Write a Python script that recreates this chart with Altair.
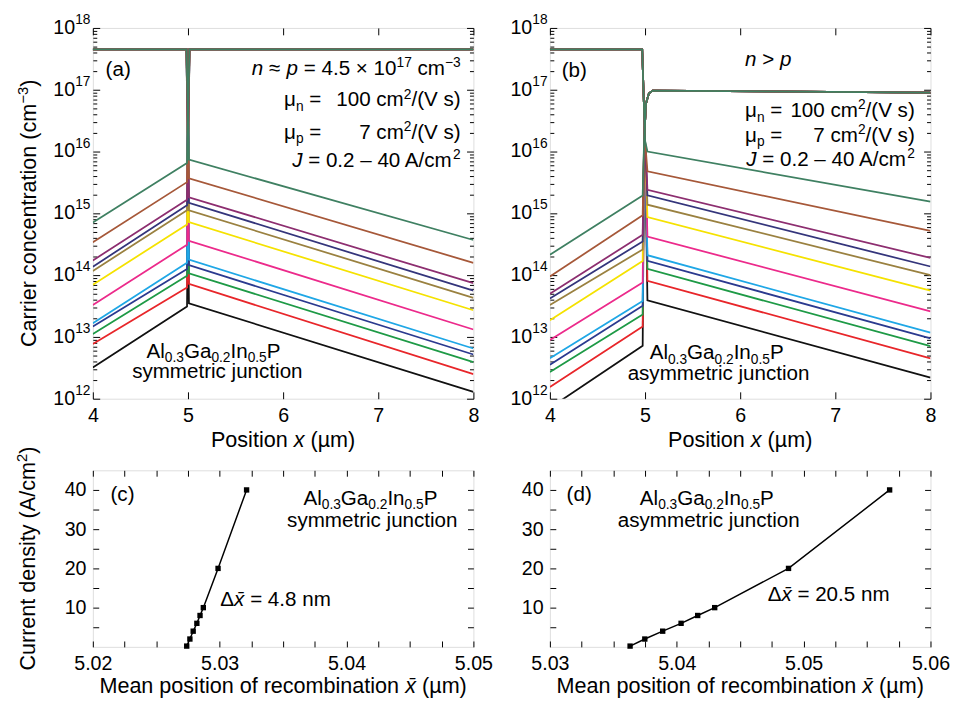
import altair as alt
import pandas as pd

FONT = "Liberation Sans"

# ---------------- data ----------------
CURVES = ["c01", "c02", "c03", "c04", "c05", "c06", "c07", "c08", "c09", "c10", "c11", "c12"]
CURVE_COLORS = ["#111111", "#e8262a", "#1e9a46", "#2b3a8f", "#1fa7e6", "#ec2a8b",
                "#f5e200", "#9a8140", "#34357b", "#8d2e70", "#a65839", "#3f8062"]

# panel (a): symmetric junction
A_MAJORITY = 4.5e17
A_N_X = [4.0, 4.99, 5.015, 8.0]
A_P_X = [4.0, 4.985, 5.01, 8.0]
A_N_AT_4 = [3.2e12, 7.7e12, 1.12e13, 1.48e13, 1.67e13, 3.3e13, 7.0e13, 1.17e14, 1.37e14, 1.73e14, 3.4e14, 7.1e14]
A_N_AT_JUNCTION = [3.1e13, 6.3e13, 9.8e13, 1.26e14, 1.58e14, 3.1e14, 6.6e14, 1.12e15, 1.35e15, 1.66e15, 3.2e15, 6.5e15]
A_P_AT_JUNCTION = [3.5e13, 7.2e13, 1.07e14, 1.45e14, 1.78e14, 3.6e14, 7.2e14, 1.12e15, 1.48e15, 1.82e15, 3.7e15, 7.4e15]
A_P_AT_8 = [1.29e12, 2.5e12, 3.9e12, 5.2e12, 6.5e12, 1.32e13, 2.7e13, 4.3e13, 5.6e13, 7.4e13, 1.58e14, 3.7e14]

# panel (b): asymmetric junction
B_MAJORITY_P = 4.5e17
B_N_X = [4.0, 4.975, 4.99, 5.01, 5.04, 5.08, 8.0]
B_N_RISE = [1.5e16, 6.0e16, 8.7e16, 9.7e16, 9.0e16]
B_P_X = [4.0, 4.97, 5.0, 5.025, 8.0]
B_P_FALL = 1.5e16
B_N_AT_4 = [7.1e11, 1.55e12, 2.7e12, 3.55e12, 4.5e12, 8.9e12, 1.86e13, 3.3e13, 4.2e13, 5.0e13, 9.5e13, 2.14e14]
B_N_AT_JUNCTION = [7.2e12, 1.48e13, 2.3e13, 3.2e13, 3.8e13, 7.6e13, 1.7e14, 2.6e14, 3.5e14, 4.5e14, 9.3e14, 1.95e15]
B_P_AT_JUNCTION = [3.9e13, 8.1e13, 1.26e14, 1.7e14, 2.1e14, 4.2e14, 8.7e14, 1.38e15, 1.95e15, 2.4e15, 4.8e15, 1.0e16]
B_P_AT_8 = [2.2e12, 4.5e12, 7.1e12, 9.5e12, 1.17e13, 2.6e13, 5.6e13, 1.0e14, 1.38e14, 1.9e14, 5.2e14, 1.55e15]

# panels (c), (d): current density vs mean recombination position
CURRENT_J = [0.2, 2, 4, 6, 8, 10, 20, 40]
C_MEAN_X = [5.02740, 5.02765, 5.02791, 5.02820, 5.02845, 5.02871, 5.02987, 5.03212]
D_MEAN_X = [5.03632, 5.03748, 5.03889, 5.04034, 5.04165, 5.04299, 5.04881, 5.05678]

# tick values / labels
TOP_X_TICKS = [4, 5, 6, 7, 8]
DECADES = [1e12, 1e13, 1e14, 1e15, 1e16, 1e17, 1e18]
EXPONENTS = ["12", "13", "14", "15", "16", "17", "18"]
LOG_MINOR = [k * d for d in DECADES[:-1] for k in range(2, 10)]
C_X_TICKS = [5.02, 5.0225, 5.025, 5.0275, 5.03, 5.0325, 5.035, 5.0375, 5.04, 5.0425, 5.045, 5.0475, 5.05]
D_X_TICKS = [5.03, 5.0325, 5.035, 5.0375, 5.04, 5.0425, 5.045, 5.0475, 5.05, 5.0525, 5.055, 5.0575, 5.06]
J_TICKS = [5, 10, 15, 20, 25, 30, 35, 40]

# ---------------- layout ----------------
PW = 388
TOP_H = 378
BOT_H = 180
DUMMY = pd.DataFrame({"v": [0]})

WIDTHS = {" ": 278, "(": 333, ")": 333, ".": 278, "/": 278, "=": 584, "≈": 584, "×": 584,
          "−": 584, "–": 556, ">": 584, "μ": 576, "µ": 576, "Δ": 668, "\u0304": 0,
          "A": 667, "C": 722, "G": 778, "I": 278, "J": 500, "M": 833, "P": 667, "V": 667,
          "a": 556, "b": 556, "c": 500, "d": 556, "e": 556, "f": 278, "g": 556, "h": 556,
          "i": 222, "j": 222, "k": 500, "l": 222, "m": 833, "n": 556, "o": 556, "p": 556,
          "r": 333, "s": 500, "t": 278, "u": 556, "x": 500, "y": 500}


def text_width(s, fs):
    return sum(WIDTHS.get(ch, 556) for ch in s) / 1000.0 * fs


def rich(pieces, x, y, size=21, anchor="left", angle=0):
    small = round(size * 0.66)
    items = []
    for t, st in pieces:
        fs = small if st in ("sup", "sub") else size
        items.append((t, st, fs, text_width(t, fs)))
    total = sum(it[3] for it in items)
    cur = -{"left": 0, "center": total / 2, "right": total}[anchor]
    out = []
    for t, st, fs, w in items:
        shift = {"sup": -0.38 * size, "sub": 0.22 * size}.get(st, 0)
        lead = len(t) - len(t.lstrip(" "))
        pos = cur + lead * WIDTHS[" "] / 1000.0 * fs
        shown = t.strip(" ")
        if angle == 0:
            px, py = x + pos, y + shift
        else:
            px, py = x + shift, y - pos
        out.append(
            alt.Chart(DUMMY).mark_text(
                text=shown, align="left", baseline="alphabetic", font=FONT,
                fontSize=fs, fontStyle="italic" if st == "i" else "normal", angle=angle, color="black"
            ).encode(x=alt.value(px), y=alt.value(py))
        )
        cur += w
    return out


def inward(n):
    return alt.ExprRef(expr=str(-n))


def ax(orient, values, size, labels=False, **kw):
    return alt.Axis(orient=orient, values=values, labels=labels, tickSize=inward(size),
                    domain=False, grid=False, title=None, tickColor="black", tickWidth=1, **kw)


def curve_rows(nx, px, nvals, pvals, name):
    rows = []
    for x, v in zip(nx, nvals):
        rows.append({"curve": name, "carrier": "n", "x": x, "conc": v})
    for x, v in zip(px, pvals):
        rows.append({"curve": name, "carrier": "p", "x": x, "conc": v})
    return rows


rows_a, rows_b = [], []
for i, name in enumerate(CURVES):
    rows_a += curve_rows(A_N_X, A_P_X,
                         [A_N_AT_4[i], A_N_AT_JUNCTION[i], A_MAJORITY, A_MAJORITY],
                         [A_MAJORITY, A_MAJORITY, A_P_AT_JUNCTION[i], A_P_AT_8[i]], name)
    rows_b += curve_rows(B_N_X, B_P_X,
                         [B_N_AT_4[i], B_N_AT_JUNCTION[i]] + B_N_RISE,
                         [B_MAJORITY_P, B_MAJORITY_P, B_P_FALL, B_P_AT_JUNCTION[i], B_P_AT_8[i]], name)
df_a = pd.DataFrame(rows_a)
df_b = pd.DataFrame(rows_b)


def top_panel(df, texts):
    xs = alt.Scale(domain=[4, 8], nice=False, zero=False)
    ys = alt.Scale(type="log", domain=[1e12, 1e18], nice=False)

    def X(a):
        return alt.X("x:Q", scale=xs, axis=a)

    def Y(a):
        return alt.Y("conc:Q", scale=ys, axis=a)

    lines = alt.Chart(df).mark_line(strokeWidth=1.8, clip=True).encode(
        x=X(ax("bottom", TOP_X_TICKS, 7, labels=True, format="d", labelFont=FONT,
               labelFontSize=20, labelPadding=14, labelFlush=False, labelColor="black")),
        y=Y(ax("left", DECADES, 7)),
        color=alt.Color("curve:N", scale=alt.Scale(domain=CURVES, range=CURVE_COLORS), legend=None),
        detail="carrier:N",
    )
    frame = pd.DataFrame({"x": [4, 8], "conc": [1e12, 1e18]})
    l2 = alt.Chart(frame).mark_point(opacity=0).encode(x=X(ax("top", TOP_X_TICKS, 7)), y=Y(ax("left", LOG_MINOR, 4)))
    l3 = alt.Chart(frame).mark_point(opacity=0).encode(x=X(None), y=Y(ax("right", DECADES, 7)))
    l4 = alt.Chart(frame).mark_point(opacity=0).encode(x=X(None), y=Y(ax("right", LOG_MINOR, 4)))
    dec = pd.DataFrame({"conc": DECADES, "exp": EXPONENTS})
    ten = alt.Chart(dec).mark_text(text="10", align="right", baseline="middle", font=FONT,
                                   fontSize=20, dy=0, color="black").encode(x=alt.value(-18), y=Y(None))
    ex = alt.Chart(dec).mark_text(align="left", baseline="middle", font=FONT, fontSize=14,
                                  dy=-8, color="black").encode(x=alt.value(-18), y=Y(None), text="exp:N")
    return alt.layer(lines, l2, l3, l4, ten, ex, *texts).resolve_axis(
        x="independent", y="independent").properties(width=PW, height=TOP_H)


def bottom_panel(xvals, xdom, xticks, texts):
    xs = alt.Scale(domain=xdom, nice=False, zero=False)
    ys = alt.Scale(domain=[0, 45], nice=False, zero=False)
    df = pd.DataFrame({"pos": xvals, "J": CURRENT_J})
    xl = "abs(datum.value*100 - round(datum.value*100)) < 1e-6 ? format(datum.value, '.2f') : ''"
    yl = "datum.value % 10 == 0 ? format(datum.value, 'd') : ''"
    line = alt.Chart(df).mark_line(color="black", strokeWidth=1.5).encode(
        x=alt.X("pos:Q", scale=xs, axis=ax("bottom", xticks, 6, labels=True, labelExpr=xl, labelFont=FONT,
                                           labelFontSize=20, labelPadding=13, labelFlush=False,
                                           labelOverlap=False, labelColor="black")),
        y=alt.Y("J:Q", scale=ys, axis=ax("left", J_TICKS, 6, labels=True, labelExpr=yl, labelFont=FONT,
                                         labelFontSize=20, labelPadding=13, labelOverlap=False,
                                         labelColor="black")),
    )
    pts = alt.Chart(df).mark_point(shape="square", filled=True, size=30, color="black", opacity=1).encode(
        x=alt.X("pos:Q", scale=xs, axis=ax("top", xticks, 6)),
        y=alt.Y("J:Q", scale=ys, axis=ax("right", J_TICKS, 6)),
    )
    return alt.layer(line, pts, *texts).resolve_axis(
        x="independent", y="independent").properties(width=PW, height=BOT_H)


ALGAINP = [("Al", "n"), ("0.3", "sub"), ("Ga", "n"), ("0.2", "sub"), ("In", "n"), ("0.5", "sub"), ("P", "n")]
POS_TITLE = [("Position ", "n"), ("x", "i"), (" (µm)", "n")]
MEAN_TITLE = [("Mean position of recombination ", "n"), ("x\u0304", "i"), (" (µm)", "n")]

texts_a = (
    rich([("(a)", "n")], 13, 49)
    + rich([("n", "i"), (" ≈ ", "n"), ("p", "i"), (" = 4.5 × 10", "n"), ("17", "sup"), (" cm", "n"), ("−3", "sup")], 375, 48, anchor="right")
    + rich([("μ", "n"), ("n", "sub"), (" =", "n")], 195, 80)
    + rich([("100 cm", "n"), ("2", "sup"), ("/(V s)", "n")], 375, 80, anchor="right")
    + rich([("μ", "n"), ("p", "sub"), (" =", "n")], 195, 113)
    + rich([("7 cm", "n"), ("2", "sup"), ("/(V s)", "n")], 375, 113, anchor="right")
    + rich([("J", "i"), (" = 0.2 – 40 A/cm", "n"), ("2", "sup")], 375, 142, anchor="right")
    + rich(ALGAINP, 123, 336, anchor="center")
    + rich([("symmetric junction", "n")], 127, 357, anchor="center")
    + rich(POS_TITLE, PW / 2, 427, size=22, anchor="center")
    + rich([("Carrier concentration (cm", "n"), ("−3", "sup"), (")", "n")], -58, TOP_H / 2, size=22, anchor="center", angle=270)
)
texts_b = (
    rich([("(b)", "n")], 12, 50)
    + rich([("n", "i"), (" > ", "n"), ("p", "i")], 199, 39)
    + rich([("μ", "n"), ("n", "sub"), (" =", "n")], 199, 91)
    + rich([("100 cm", "n"), ("2", "sup"), ("/(V s)", "n")], 372, 91, anchor="right")
    + rich([("μ", "n"), ("p", "sub"), (" =", "n")], 199, 116)
    + rich([("7 cm", "n"), ("2", "sup"), ("/(V s)", "n")], 372, 116, anchor="right")
    + rich([("J", "i"), (" = 0.2 – 40 A/cm", "n"), ("2", "sup")], 372, 141, anchor="right")
    + rich(ALGAINP, 170, 338, anchor="center")
    + rich([("asymmetric junction", "n")], 172, 359, anchor="center")
    + rich(POS_TITLE, PW / 2, 427, size=22, anchor="center")
)
texts_c = (
    rich([("(c)", "n")], 18, 31)
    + rich(ALGAINP, 283, 35, anchor="center")
    + rich([("symmetric junction", "n")], 285, 58, anchor="center")
    + rich([("Δ", "n"), ("x\u0304", "i"), (" = 4.8 nm", "n")], 130, 138)
    + rich(MEAN_TITLE, PW / 2, 227, size=22, anchor="center")
    + rich([("Current density (A/cm", "n"), ("2", "sup"), (")", "n")], -59, BOT_H / 2, size=22, anchor="center", angle=270)
)
texts_d = (
    rich([("(d)", "n")], 17, 31)
    + rich(ALGAINP, 160, 35, anchor="center")
    + rich([("asymmetric junction", "n")], 162, 58, anchor="center")
    + rich([("Δ", "n"), ("x\u0304", "i"), (" = 20.5 nm", "n")], 222, 133)
    + rich(MEAN_TITLE, PW / 2, 227, size=22, anchor="center")
)

panel_a = top_panel(df_a, texts_a)
panel_b = top_panel(df_b, texts_b)
panel_c = bottom_panel(C_MEAN_X, [5.02, 5.05], C_X_TICKS, texts_c)
panel_d = bottom_panel(D_MEAN_X, [5.03, 5.06], D_X_TICKS, texts_d)

chart = alt.concat(
    panel_a, panel_b, panel_c, panel_d, columns=2,
    spacing={"row": 73, "column": 78}, bounds="flush",
).properties(
    padding={"left": 6.5, "top": -2.5, "right": 5, "bottom": 5}
).configure_view(stroke="black", strokeWidth=1.2).configure(background="white")

chart.save("out.html", embed_options={"renderer": "svg", "actions": False})
